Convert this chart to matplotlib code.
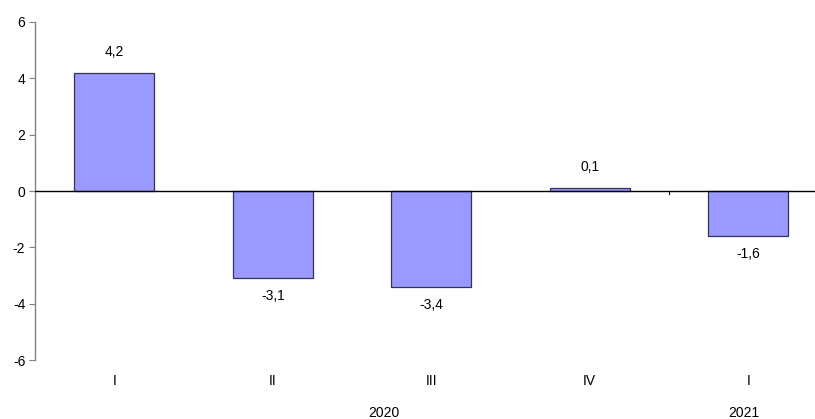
import matplotlib

matplotlib.use("Agg")
import matplotlib.pyplot as plt

plt.rcParams["font.family"] = ["Liberation Sans", "DejaVu Sans"]

quarters = ["I", "II", "III", "IV", "I"]
values = [4.2, -3.1, -3.4, 0.1, -1.6]
years = ["2020", "2021"]
year_pos = [1.7, 3.97]
y_ticks = [-6, -4, -2, 0, 2, 4, 6]

fig = plt.figure(figsize=(8.15, 4.19), dpi=100)
ax = fig.add_axes([0.043, 0.1408, 0.9724, 0.8067])

x = range(len(values))
ax.bar(x, values, width=0.505, color="#9999FF", edgecolor="#333355", linewidth=0.9, zorder=2)
ax.axhline(0, color="black", linewidth=1.0, zorder=3)
ax.plot([3.5, 3.5], [0, -0.12], color="black", linewidth=0.8, zorder=3)

for xi, v in zip(x, values):
    label = f"{v:.1f}".replace(".", ",")
    if v >= 0:
        ax.annotate(label, (xi, v), xytext=(0, 10), textcoords="offset points",
                    ha="center", va="bottom", fontsize=10)
    else:
        ax.annotate(label, (xi, v), xytext=(0, -8), textcoords="offset points",
                    ha="center", va="top", fontsize=10)

ax.set_xlim(-0.5, 4.5)
ax.set_ylim(-6, 6)
ax.set_yticks(y_ticks)
ax.set_yticklabels([str(t) for t in y_ticks], fontsize=10)
ax.tick_params(axis="y", length=4, width=0.8, color="#808080", pad=3)
ax.set_xticks([])

for name in ["top", "right", "bottom"]:
    ax.spines[name].set_visible(False)
ax.spines["left"].set_color("#808080")
ax.spines["left"].set_linewidth(1.0)

for xi, q in zip(x, quarters):
    ax.annotate(q, (xi, -6), xytext=(0, -10), textcoords="offset points",
                ha="center", va="top", fontsize=10, annotation_clip=False)
for xp, yr in zip(year_pos, years):
    ax.annotate(yr, (xp, -6), xytext=(0, -33), textcoords="offset points",
                ha="center", va="top", fontsize=10, annotation_clip=False)

fig.savefig("out.png", dpi=100)
